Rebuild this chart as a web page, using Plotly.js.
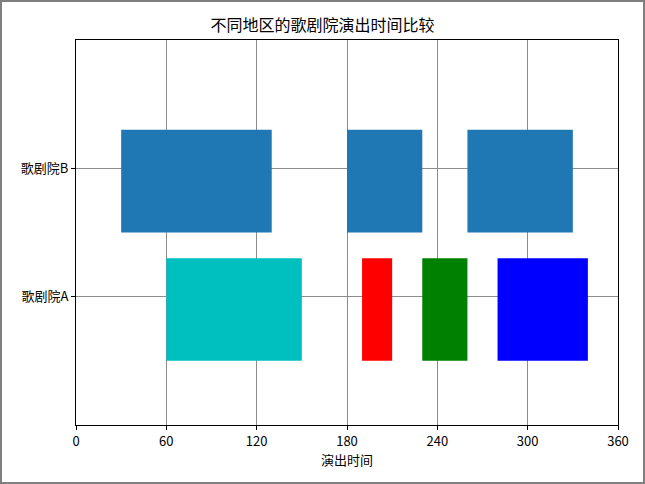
<!DOCTYPE html>
<html>
<head>
<meta charset="utf-8">
<script src="https://cdn.plot.ly/plotly-3.0.1.min.js"></script>
<style>
html,body{margin:0;padding:0;background:#fff;}
#wrap{width:645px;height:484px;box-sizing:border-box;border:2px solid #7f7f7f;overflow:hidden;}
#chart{width:641px;height:480px;}
</style>
</head>
<body>
<div id="wrap"><div id="chart"></div></div>
<script>
// Data
var theaters = ["歌剧院A", "歌剧院B"];
var theaterTickPos = [10, 20];
var barBottom = [5, 15];
var barHeight = 8;
var startsA = [60, 190, 230, 280];
var durationsA = [90, 20, 30, 60];
var colorsA = ["#00bfbf", "#ff0000", "#008000", "#0000ff"];
var startsB = [30, 180, 260];
var durationsB = [100, 50, 70];
var colorB = "#1f77b4";
var xTicks = [0, 60, 120, 180, 240, 300, 360];

var font = "'Noto Sans CJK SC', 'DejaVu Sans', sans-serif";

function mkTrace(starts, durs, yBottom, colors) {
  return {
    type: "bar",
    orientation: "h",
    base: starts,
    x: durs,
    y: starts.map(function(){ return yBottom + barHeight / 2; }),
    width: starts.map(function(){ return barHeight; }),
    marker: {color: colors, line: {width: 0}},
    hoverinfo: "skip",
    showlegend: false
  };
}

var traces = [
  mkTrace(startsB, durationsB, barBottom[1], startsB.map(function(){ return colorB; })),
  mkTrace(startsA, durationsA, barBottom[0], colorsA)
];

var layout = {
  width: 641, height: 480,
  margin: {l: 74, r: 25, t: 38, b: 57},
  paper_bgcolor: "#ffffff",
  plot_bgcolor: "#ffffff",
  barmode: "overlay",
  font: {family: font, size: 13, color: "#000"},
  title: {text: "不同地区的歌剧院演出时间比较", font: {family: font, size: 16, color: "#000"}, x: 0.5, xanchor: "center", y: 1, yref: "paper", yanchor: "bottom", pad: {b: 9}},
  xaxis: {
    range: [0, 360], tickvals: xTicks, ticktext: xTicks.map(String),
    showgrid: true, gridcolor: "#8c8c8c", gridwidth: 1,
    showline: true, linecolor: "#000", linewidth: 1, mirror: true,
    ticks: "outside", ticklen: 4, tickcolor: "#000",
    zeroline: false, layer: "above traces",
    title: {text: "演出时间", font: {family: font, size: 13}, standoff: 6}
  },
  yaxis: {
    range: [0, 30], tickvals: theaterTickPos, ticktext: theaters,
    showgrid: true, gridcolor: "#8c8c8c", gridwidth: 1,
    showline: true, linecolor: "#000", linewidth: 1, mirror: true,
    ticks: "outside", ticklen: 4, tickcolor: "#000",
    zeroline: false, layer: "above traces"
  }
};

Plotly.newPlot("chart", traces, layout, {staticPlot: true, displayModeBar: false});
</script>
</body>
</html>
